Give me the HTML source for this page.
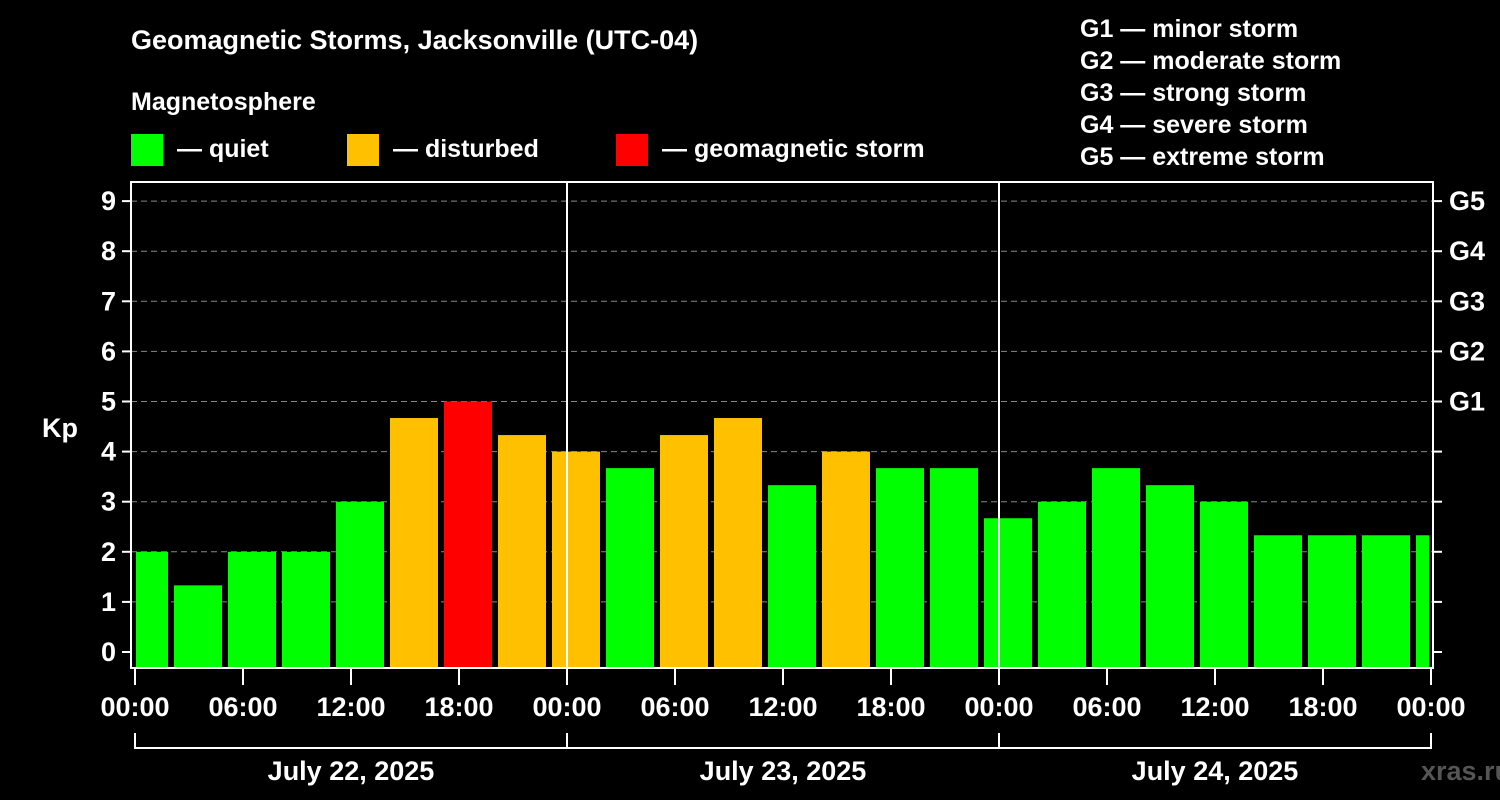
<!DOCTYPE html>
<html><head><meta charset="utf-8"><style>
body{margin:0;background:#000;}
svg{display:block;font-family:"Liberation Sans",sans-serif;font-weight:bold;}
</style></head><body>
<svg id="c" width="1500" height="800">
<rect width="1500" height="800" fill="#000"/>
<text x="131" y="49" fill="#fff" font-size="27">Geomagnetic Storms, Jacksonville (UTC-04)</text>
<text x="131" y="110" fill="#fff" font-size="25">Magnetosphere</text>
<g><rect x="131" y="134" width="32" height="32" fill="#00ff00"/><text x="177" y="157" fill="#fff" font-size="25">— quiet</text></g>
<g><rect x="347" y="134" width="32" height="32" fill="#ffc000"/><text x="393" y="157" fill="#fff" font-size="25">— disturbed</text></g>
<g><rect x="616" y="134" width="32" height="32" fill="#ff0000"/><text x="662" y="157" fill="#fff" font-size="25">— geomagnetic storm</text></g>
<g fill="#fff" font-size="25">
<text x="1080" y="37">G1 — minor storm</text>
<text x="1080" y="69">G2 — moderate storm</text>
<text x="1080" y="101">G3 — strong storm</text>
<text x="1080" y="133">G4 — severe storm</text>
<text x="1080" y="165">G5 — extreme storm</text>
</g>
<text x="42" y="437" fill="#fff" font-size="27">Kp</text>
<text x="1421" y="780" fill="#555" font-size="27">xras.ru</text>
<g id="grid"></g><g id="bars"></g><g id="axes"></g>
</svg>
<script>
const kpValues=[2,1.33,2,2,3,4.67,5,4.33,4,3.67,4.33,4.67,3.33,4,3.67,3.67,2.67,3,3.67,3.33,3,2.33,2.33,2.33,2.33];
const startHour=-1; // first interval start, local hours
const yTicks=[0,1,2,3,4,5,6,7,8,9];
const gLabels=["G1","G2","G3","G4","G5"];
const xTickLabels=["00:00","06:00","12:00","18:00","00:00","06:00","12:00","18:00","00:00","06:00","12:00","18:00","00:00"];
const dayLabels=["July 22, 2025","July 23, 2025","July 24, 2025"];
const NS="http://www.w3.org/2000/svg";
const L=131,R=1433,T=182,B=668,X0=135,PX_H=18;
const y=v=>652-v*50.1;
const x=h=>X0+h*PX_H;
function mk(t,a,p,txt){const e=document.createElementNS(NS,t);for(const k in a)e.setAttribute(k,a[k]);if(txt!=null)e.textContent=txt;p.appendChild(e);return e;}
const grid=document.getElementById('grid'),bars=document.getElementById('bars'),axes=document.getElementById('axes');
yTicks.forEach(v=>{
 if(v>=1){const g=mk('line',{x1:L,x2:R,y1:y(v),y2:y(v),stroke:'#888','stroke-dasharray':'6 4','stroke-width':1},grid);
 
 }
 const t=mk('line',{x1:122,x2:L,y1:y(v),y2:y(v),stroke:'#fff','stroke-width':2},axes);
 
 
 const t2=mk('line',{x1:R,x2:1442,y1:y(v),y2:y(v),stroke:'#fff','stroke-width':2},axes);
 
 
 const l=mk('text',{x:116,y:y(v)+9,fill:'#fff','font-size':27,'text-anchor':'end'},axes,String(v));
 
 
});
gLabels.forEach((g,i)=>{
 const l=mk('text',{x:1449,y:y(5+i)+9,fill:'#fff','font-size':27},axes,g);
 
 
});
kpValues.forEach((v,i)=>{
 const h0=startHour+i*3;
 let a=x(h0)+3,b=x(h0+3)-3;
 a=Math.max(a,X0+1);b=Math.min(b,R-4);
 const c=v>=5?'#ff0000':(v>=4?'#ffc000':'#00ff00');
 const r=mk('rect',{x:a,y:y(v),width:b-a,height:B-y(v),fill:c},bars);
 
 
});
[1,2].forEach(d=>{
 const l=mk('line',{x1:x(d*24),x2:x(d*24),y1:T,y2:B,stroke:'#fff','stroke-width':2},axes);
 
 
});
const fr=mk('rect',{x:L,y:T,width:R-L,height:B-T,fill:'none',stroke:'#fff','stroke-width':2},axes);


xTickLabels.forEach((s,i)=>{
 const xx=x(i*6);
 const t=mk('line',{x1:xx,x2:xx,y1:B,y2:685,stroke:'#fff','stroke-width':2},axes);
 
 
 const l=mk('text',{x:xx,y:716,fill:'#fff','font-size':27,'text-anchor':'middle'},axes,s);
 
 
});
const br=mk('line',{x1:x(0),x2:x(72),y1:748,y2:748,stroke:'#fff','stroke-width':2},axes);


[0,1,2,3].forEach(d=>{
 const l=mk('line',{x1:x(d*24),x2:x(d*24),y1:733,y2:749,stroke:'#fff','stroke-width':2},axes);
 
 
});
dayLabels.forEach((s,i)=>{
 const l=mk('text',{x:x(i*24+12),y:780,fill:'#fff','font-size':27,'text-anchor':'middle'},axes,s);
 
 
});
</script>
</body></html>
